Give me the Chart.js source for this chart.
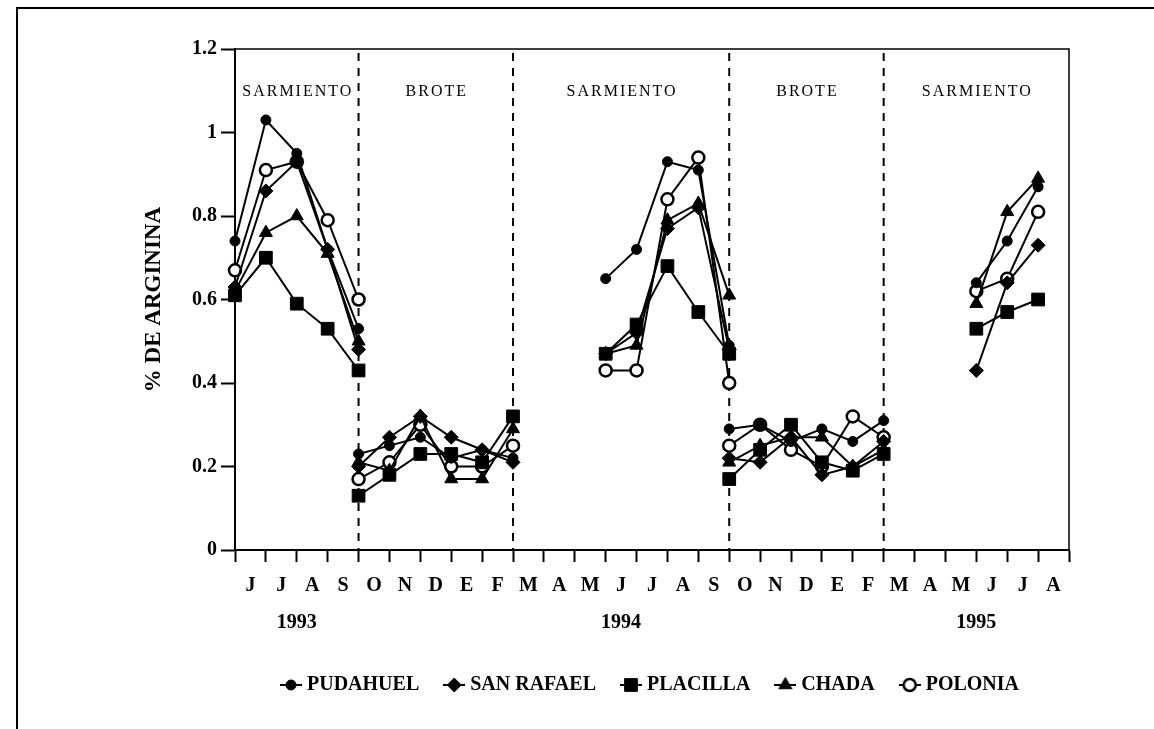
<!DOCTYPE html>
<html>
<head>
<meta charset="utf-8">
<title>% de arginina</title>
<script src="https://cdn.jsdelivr.net/npm/chart.js@4.4.1/dist/chart.umd.min.js"></script>
<style>
  html, body { margin: 0; padding: 0; background: #fff; }
  #wrap { width: 1154px; height: 729px; }
</style>
</head>
<body>
<div id="wrap"><canvas id="grafico" width="1154" height="729"></canvas></div>
<script>
// meses del eje x (cada letra va entre dos marcas)
const meses = ['J','J','A','S','O','N','D','E','F','M','A','M','J','J','A','S','O','N','D','E','F','M','A','M','J','J','A'];
const anios = ['1993', '1994', '1995'];
const aniosPos = [2, 12.5, 24];

// periodos y sus limites (en marcas del eje)
const periodos = ['SARMIENTO', 'BROTE', 'SARMIENTO', 'BROTE', 'SARMIENTO'];
const limites = [0, 4, 9, 16, 21, 27];

// marcas donde se tomo cada muestra, por tramo
const tramos = [
  [0, 1, 2, 3, 4],
  [4, 5, 6, 7, 8, 9],
  [12, 13, 14, 15, 16],
  [16, 17, 18, 19, 20, 21],
  [24, 25, 26]
];

const yMax = 1.2;
const yPaso = 0.2;

// % de arginina por localidad, un arreglo por tramo
const pudahuel  = [[0.74, 1.03, 0.95, 0.72, 0.53], [0.23, 0.25, 0.27, 0.22, 0.24, 0.22], [0.65, 0.72, 0.93, 0.91, 0.49], [0.29, 0.30, 0.26, 0.29, 0.26, 0.31], [0.64, 0.74, 0.87]];
const sanRafael = [[0.63, 0.86, 0.93, 0.72, 0.48], [0.20, 0.27, 0.32, 0.27, 0.24, 0.21], [0.47, 0.52, 0.77, 0.82, 0.48], [0.22, 0.21, 0.27, 0.18, 0.20, 0.26], [0.43, 0.64, 0.73]];
const placilla  = [[0.61, 0.70, 0.59, 0.53, 0.43], [0.13, 0.18, 0.23, 0.23, 0.21, 0.32], [0.47, 0.54, 0.68, 0.57, 0.47], [0.17, 0.24, 0.30, 0.21, 0.19, 0.23], [0.53, 0.57, 0.60]];
const chada     = [[0.62, 0.76, 0.80, 0.71, 0.50], [0.21, 0.19, 0.32, 0.17, 0.17, 0.29], [0.47, 0.49, 0.79, 0.83, 0.61], [0.21, 0.25, 0.27, 0.27, 0.20, 0.24], [0.59, 0.81, 0.89]];
const polonia   = [[0.67, 0.91, 0.93, 0.79, 0.60], [0.17, 0.21, 0.30, 0.20, 0.20, 0.25], [0.43, 0.43, 0.84, 0.94, 0.40], [0.25, 0.30, 0.24, 0.20, 0.32, 0.27], [0.62, 0.65, 0.81]];

const series = [
  { label: 'PUDAHUEL',   valores: pudahuel,  estilo: 'circle',   radio: 5,   relleno: '#000', borde: 1 },
  { label: 'SAN RAFAEL', valores: sanRafael, estilo: 'rectRot',  radio: 7,   relleno: '#000', borde: 1 },
  { label: 'PLACILLA',   valores: placilla,  estilo: 'rect',     radio: 9,   relleno: '#000', borde: 1 },
  { label: 'CHADA',      valores: chada,     estilo: 'triangle', radio: 7.5, relleno: '#000', borde: 1 },
  { label: 'POLONIA',    valores: polonia,   estilo: 'circle',   radio: 6,   relleno: '#fff', borde: 2.5 }
];

Chart.defaults.font.family = '"Liberation Serif", "Times New Roman", serif';
Chart.defaults.color = '#000';

// puntos {x, y}; un null al final de cada tramo corta la linea
function armarPuntos(valores) {
  const pts = [];
  tramos.forEach((pos, t) => {
    pos.forEach((x, i) => pts.push({ x: x, y: valores[t][i] }));
    pts.push({ x: pos[pos.length - 1], y: null });
  });
  return pts;
}

// icono de leyenda: linea corta con el marcador al centro
function icono(s) {
  const c = document.createElement('canvas');
  c.width = 22; c.height = 20;
  const g = c.getContext('2d');
  g.strokeStyle = '#000';
  g.lineWidth = 2;
  g.beginPath(); g.moveTo(0, 10); g.lineTo(22, 10); g.stroke();
  g.fillStyle = s.relleno;
  g.lineWidth = s.borde;
  Chart.helpers.drawPoint(g, { pointStyle: s.estilo, radius: s.radio, borderWidth: s.borde, rotation: 0 }, 11, 10);
  return c;
}
const iconos = series.map(icono);

const decoracion = {
  id: 'decoracion',
  beforeDatasetsDraw(chart) {
    const { ctx, chartArea: a } = chart;
    const x = chart.scales.x;
    ctx.save();
    ctx.strokeStyle = '#000';
    // marco exterior
    ctx.lineWidth = 2;
    ctx.beginPath(); ctx.moveTo(17, chart.height); ctx.lineTo(17, 8); ctx.lineTo(chart.width, 8); ctx.stroke();
    // caja del area del grafico
    ctx.lineWidth = 1.5;
    ctx.beginPath(); ctx.moveTo(a.left, a.top); ctx.lineTo(a.right, a.top); ctx.lineTo(a.right, a.bottom); ctx.stroke();
    // lineas punteadas entre periodos
    ctx.lineWidth = 2;
    ctx.setLineDash([8, 7]);
    limites.slice(1, -1).forEach(d => {
      const px = x.getPixelForValue(d);
      ctx.beginPath(); ctx.moveTo(px, a.top + 4); ctx.lineTo(px, a.bottom); ctx.stroke();
    });
    ctx.setLineDash([]);
    // nombres de los periodos
    ctx.fillStyle = '#000';
    ctx.font = '16px "Liberation Serif", serif';
    if ('letterSpacing' in ctx) ctx.letterSpacing = '2px';
    ctx.textAlign = 'center';
    ctx.textBaseline = 'middle';
    periodos.forEach((p, i) => {
      const cx = (x.getPixelForValue(limites[i]) + x.getPixelForValue(limites[i + 1])) / 2;
      ctx.fillText(p, cx + 1, a.top + 43);
    });
    ctx.restore();
  }
};

new Chart(document.getElementById('grafico'), {
  type: 'line',
  data: {
    datasets: series.map(s => ({
      label: s.label,
      data: armarPuntos(s.valores),
      borderColor: '#000',
      borderWidth: 2,
      spanGaps: false,
      clip: false,
      pointStyle: s.estilo,
      pointRadius: s.radio,
      pointBackgroundColor: s.relleno,
      pointBorderColor: '#000',
      pointBorderWidth: s.borde
    }))
  },
  options: {
    responsive: false,
    animation: false,
    events: [],
    layout: { padding: { top: 49, right: 85, bottom: 24, left: 120 } },
    scales: {
      x: {
        type: 'linear',
        min: 0,
        max: meses.length,
        afterFit: s => { s.height = 96; },
        border: { display: true, color: '#000', width: 2 },
        grid: {
          drawOnChartArea: false,
          tickLength: 12,
          tickWidth: 2,
          tickColor: c => Number.isInteger(c.tick.value) ? '#000' : 'rgba(0,0,0,0)'
        },
        ticks: {
          stepSize: 0.5,
          autoSkip: false,
          maxRotation: 0,
          minRotation: 0,
          padding: 5,
          font: { size: 20, weight: 'bold', lineHeight: 1.865 },
          callback: function (v) {
            const mes = (v % 1 === 0.5) ? meses[Math.floor(v)] : '';
            const k = aniosPos.indexOf(v);
            return [mes, k >= 0 ? anios[k] : ''];
          }
        }
      },
      y: {
        min: 0,
        max: yMax,
        afterFit: s => { s.width = 115; },
        border: { display: true, color: '#000', width: 2 },
        grid: { drawOnChartArea: false, tickLength: 14, tickWidth: 2, tickColor: '#000' },
        ticks: {
          stepSize: yPaso,
          padding: 4,
          font: { size: 20, weight: 'bold' },
          callback: v => String(Math.round(v * 10) / 10)
        },
        title: {
          display: true,
          text: '% DE ARGININA',
          font: { size: 23, weight: 'bold' },
          padding: { top: 20, bottom: 0 }
        }
      }
    },
    plugins: {
      tooltip: { enabled: false },
      legend: {
        position: 'bottom',
        fullSize: false,
        labels: {
          usePointStyle: true,
          pointStyleWidth: 12,
          padding: 29,
          font: { size: 20, weight: 'bold' },
          generateLabels: chart => Chart.defaults.plugins.legend.labels.generateLabels(chart)
            .map((it, i) => Object.assign(it, { pointStyle: iconos[i] }))
        }
      }
    }
  },
  plugins: [decoracion]
});
</script>
</body>
</html>
